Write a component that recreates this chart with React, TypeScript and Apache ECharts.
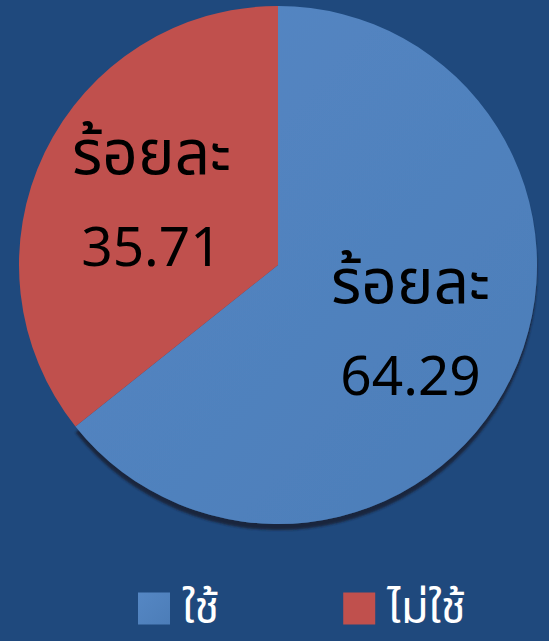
import React, { useEffect, useRef } from "react";
import * as echarts from "echarts";

const categories = ["ใช้", "ไม่ใช้"];
const values = [64.29, 35.71];
const labelPrefix = "ร้อยละ";
const colors = ["#4F81BD", "#C0504D"];

const BG = "#1F497D";
const CX = 278;
const CY = 265;
const R = 259;
const FONT = "'Noto Sans Thai', 'Noto Sans', 'DejaVu Sans', sans-serif";

export default function App() {
  const ref = useRef<HTMLDivElement>(null);

  useEffect(() => {
    document.body.style.margin = "0";
    if (!ref.current) return;
    const chart = echarts.init(ref.current, null, { renderer: "svg" });
    const data = categories.map((name, i) => ({
      name,
      value: values[i],
      itemStyle:
        i === 0
          ? {
              color: new echarts.graphic.LinearGradient(0, 0, 1, 1, [
                { offset: 0, color: "#5587C4" },
                { offset: 1, color: "#4C7DB8" },
              ]),
              shadowColor: "rgba(18,30,48,0.85)",
              shadowBlur: 2,
              shadowOffsetY: 6,
              shadowOffsetX: 0,
            }
          : { color: colors[i] },
    }));
    chart.setOption({
      animation: false,
      backgroundColor: BG,
      color: colors,
      legend: {
        data: categories,
        left: 138,
        top: 586,
        padding: 0,
        itemWidth: 32,
        itemHeight: 32,
        itemGap: 124,
        icon: "rect",
        textStyle: {
          color: "#FFFFFF",
          fontSize: 45,
          fontFamily: FONT,
          padding: [0, 0, 0, 7],
        },
      },
      series: [
        {
          type: "pie",
          center: [CX, CY],
          radius: [0, R],
          startAngle: 90,
          clockwise: true,
          data,
          label: {
            show: true,
            position: "inside",
            color: "#000000",
            fontFamily: FONT,
            formatter: (p: any) => `{t|${labelPrefix}}\n{n|${p.value.toFixed(2)}}`,
            rich: {
              t: { fontSize: 62, lineHeight: 95, color: "#000000", fontFamily: FONT },
              n: { fontSize: 55, lineHeight: 95, color: "#000000", fontFamily: FONT },
            },
          },
          labelLine: { show: false },
          labelLayout: (p: any) => {
            const r = p.labelRect;
            const lx = r.x + r.width / 2;
            const ly = r.y + r.height / 2;
            return { dx: (lx - CX) * 0.085 + 3, dy: (ly - CY) * 0.12 + 2 };
          },
          emphasis: { disabled: true },
        },
      ],
    });
    return () => chart.dispose();
  }, []);

  return <div ref={ref} style={{ width: 549, height: 641, background: BG }} />;
}
